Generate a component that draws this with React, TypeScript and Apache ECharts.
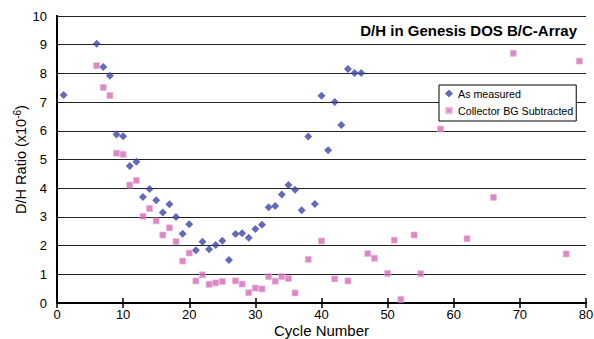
import React, { useEffect, useRef } from "react";
import * as echarts from "echarts";

const TITLE = "D/H in Genesis DOS B/C-Array";
const SERIES_NAMES = ["As measured", "Collector BG Subtracted"];

const measuredCycles = [1, 6, 7, 8, 9, 10, 11, 12, 13, 14, 15, 16, 17, 18, 19, 20, 21, 22, 23, 24, 25, 26, 27, 28, 29, 30, 31, 32, 33, 34, 35, 36, 37, 38, 39, 40, 41, 42, 43, 44, 45, 46];
const measuredValues = [7.25, 9.03, 8.22, 7.92, 5.87, 5.81, 4.77, 4.92, 3.69, 3.97, 3.58, 3.15, 3.44, 3.0, 2.41, 2.74, 1.84, 2.13, 1.87, 2.02, 2.17, 1.5, 2.4, 2.43, 2.27, 2.58, 2.73, 3.34, 3.38, 3.78, 4.11, 3.95, 3.23, 5.8, 3.45, 7.22, 5.32, 7.0, 6.2, 8.15, 8.01, 8.01];

const subtractedCycles = [6, 7, 8, 9, 10, 11, 12, 13, 14, 15, 16, 17, 18, 19, 20, 21, 22, 23, 24, 25, 27, 28, 29, 30, 31, 32, 33, 34, 35, 36, 38, 40, 42, 44, 47, 48, 50, 51, 52, 54, 55, 58, 62, 66, 69, 77, 79];
const subtractedValues = [8.27, 7.51, 7.23, 5.22, 5.18, 4.11, 4.27, 3.02, 3.29, 2.86, 2.37, 2.62, 2.14, 1.46, 1.74, 0.77, 0.98, 0.65, 0.7, 0.75, 0.77, 0.66, 0.36, 0.52, 0.49, 0.92, 0.76, 0.92, 0.85, 0.35, 1.52, 2.16, 0.84, 0.77, 1.72, 1.56, 1.03, 2.19, 0.13, 2.37, 1.02, 6.06, 2.24, 3.68, 8.7, 1.71, 8.43];

const X_MIN = 0, X_MAX = 80, X_STEP = 10;
const Y_MIN = 0, Y_MAX = 10, Y_STEP = 1;

const FONT = "'Liberation Sans', Arial, Helvetica, sans-serif";
const BLUE = "#3C45A8";
const PINK = "#D36AB7";

export default function App() {
  const ref = useRef<HTMLDivElement>(null);
  useEffect(() => {
    if (!ref.current) return;
    const chart = echarts.init(ref.current, null, { renderer: "svg" });
    const measured = measuredCycles.map((c, i) => [c, measuredValues[i]]);
    const subtracted = subtractedCycles.map((c, i) => [c, subtractedValues[i]]);
    chart.setOption({
      animation: false,
      backgroundColor: "#fff",
      textStyle: { fontFamily: FONT, color: "#000" },
      title: {
        text: TITLE,
        right: 17,
        top: 23,
        padding: 0,
        textStyle: { fontFamily: FONT, fontSize: 15, fontWeight: "bold", color: "#000" },
      },
      legend: {
        orient: "vertical",
        left: 439,
        top: 85,
        padding: [3, 3, 5, 5],
        itemWidth: 8,
        itemHeight: 8,
        itemGap: 6,
        backgroundColor: "#fff",
        borderColor: "#000",
        borderWidth: 1,
        textStyle: { fontFamily: FONT, fontSize: 10.7, lineHeight: 11, color: "#000" },
        data: [
          { name: SERIES_NAMES[0], icon: "diamond" },
          { name: SERIES_NAMES[1], icon: "path://M0,0M8,8M1.2,1.2L6.8,1.2L6.8,6.8L1.2,6.8Z" },
        ],
      },
      grid: { left: 57, right: 8, top: 16, bottom: 36, containLabel: false, outerBoundsMode: "none" },
      xAxis: [
        {
          type: "value",
          min: X_MIN,
          max: X_MAX,
          interval: X_STEP,
          name: "Cycle Number",
          nameLocation: "middle",
          nameGap: 20,
          nameMoveOverlap: false,
          nameTextStyle: { fontFamily: FONT, fontSize: 15, lineHeight: 15, color: "#000" },
          axisLine: { show: true, lineStyle: { color: "#000", width: 2 } },
          axisTick: { show: true, inside: true, length: 5, lineStyle: { color: "#000", width: 1.5 } },
          axisLabel: { fontFamily: FONT, fontSize: 13, color: "#000", margin: 5 },
          splitLine: { show: false },
        },
        {
          type: "value",
          position: "top",
          min: X_MIN,
          max: X_MAX,
          interval: X_STEP,
          axisLine: { show: true, lineStyle: { color: "#000", width: 2 } },
          axisTick: { show: true, inside: true, length: 5, lineStyle: { color: "#000", width: 1.5 } },
          axisLabel: { show: false },
          splitLine: { show: false },
        },
      ],
      yAxis: [
        {
          type: "value",
          min: Y_MIN,
          max: Y_MAX,
          interval: Y_STEP,
          name: "{a|D/H Ratio (x10}{s|-6}{a|)}",
          nameLocation: "middle",
          nameGap: 28,
          nameMoveOverlap: false,
          nameTextStyle: {
            fontFamily: FONT,
            fontSize: 14.5,
            color: "#000",
            rich: {
              a: { fontFamily: FONT, fontSize: 14.5, color: "#000", lineHeight: 17 },
              s: { fontFamily: FONT, fontSize: 10, color: "#000", verticalAlign: "top", lineHeight: 17 },
            },
          },
          axisLine: { show: true, lineStyle: { color: "#000", width: 2 } },
          axisTick: { show: false },
          axisLabel: { fontFamily: FONT, fontSize: 13, color: "#000", margin: 10 },
          splitLine: { show: true, lineStyle: { color: "#222", width: 1 } },
        },
        {
          type: "value",
          position: "right",
          min: Y_MIN,
          max: Y_MAX,
          interval: Y_STEP,
          axisLine: { show: true, lineStyle: { color: "#000", width: 2 } },
          axisTick: { show: true, inside: false, length: 2, lineStyle: { color: "#000", width: 1 } },
          axisLabel: { show: false },
          splitLine: { show: false },
        },
      ],
      series: [
        {
          name: SERIES_NAMES[0],
          type: "scatter",
          xAxisIndex: 0,
          yAxisIndex: 0,
          symbol: "diamond",
          symbolSize: 8,
          itemStyle: { color: BLUE },
          data: measured,
          z: 3,
        },
        {
          name: SERIES_NAMES[1],
          type: "scatter",
          xAxisIndex: 0,
          yAxisIndex: 0,
          symbol: "rect",
          symbolSize: 6,
          itemStyle: { color: PINK, borderColor: "#EDB0DC", borderWidth: 0.8 },
          data: subtracted,
          z: 4,
        },
      ],
    });
    return () => chart.dispose();
  }, []);
  return (
    <div
      ref={ref}
      style={{ position: "fixed", left: 0, top: 0, width: 594, height: 339, background: "#fff" }}
    />
  );
}
